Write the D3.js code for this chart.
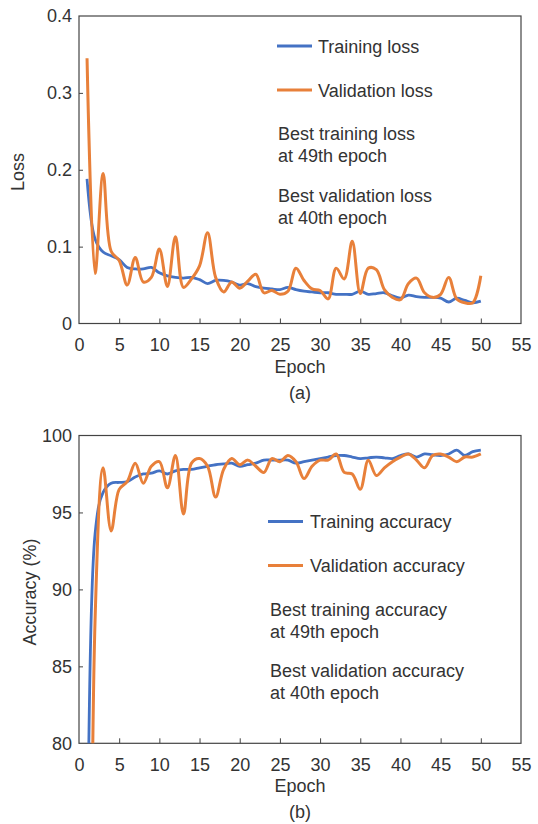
<!DOCTYPE html>
<html>
<head>
<meta charset="utf-8">
<script src="https://cdn.jsdelivr.net/npm/d3@7"></script>
<style>
  body { margin: 0; background: #fff; }
  svg { display: block; font-family: "Liberation Sans", Arial, sans-serif; }
  .tick text { font-size: 18px; fill: #333; }
  .tick line { stroke: #444; }
</style>
</head>
<body>
<svg id="chart" width="538" height="824"></svg>
<script>
// ---- DATA (epochs 1..50) ----
const epochs = d3.range(1, 51);
const xTicks = [0, 5, 10, 15, 20, 25, 30, 35, 40, 45, 50, 55];

const trainLoss = [0.188, 0.110, 0.093, 0.088, 0.083, 0.073, 0.071, 0.071, 0.073, 0.066,
  0.062, 0.060, 0.059, 0.060, 0.057, 0.052, 0.056, 0.056, 0.054, 0.050,
  0.052, 0.048, 0.046, 0.045, 0.044, 0.047, 0.044, 0.042, 0.041, 0.040,
  0.040, 0.038, 0.038, 0.038, 0.042, 0.038, 0.039, 0.040, 0.036, 0.033,
  0.037, 0.035, 0.034, 0.034, 0.033, 0.028, 0.033, 0.030, 0.027, 0.029];
const valLoss = [0.345, 0.065, 0.195, 0.094, 0.082, 0.050, 0.086, 0.054, 0.060, 0.097,
  0.048, 0.113, 0.047, 0.058, 0.075, 0.118, 0.060, 0.041, 0.054, 0.046,
  0.055, 0.064, 0.040, 0.043, 0.038, 0.042, 0.072, 0.056, 0.045, 0.043,
  0.032, 0.072, 0.058, 0.107, 0.039, 0.072, 0.070, 0.044, 0.034, 0.031,
  0.052, 0.059, 0.040, 0.034, 0.038, 0.060, 0.032, 0.027, 0.027, 0.062];
const lossTicks = [0, 0.1, 0.2, 0.3, 0.4];

// epoch 1 sits far below the 80% floor and is clipped, as in the source
const trainAcc = [0, 93.6, 96.3, 96.9, 96.95, 97.0, 97.3, 97.5, 97.55, 97.7,
  97.5, 97.7, 97.8, 97.8, 97.9, 98.0, 98.1, 98.15, 98.2, 98.0,
  98.1, 98.2, 98.4, 98.4, 98.4, 98.4, 98.2, 98.3, 98.4, 98.5,
  98.6, 98.7, 98.7, 98.6, 98.5, 98.55, 98.6, 98.55, 98.5, 98.7,
  98.8, 98.6, 98.8, 98.75, 98.7, 98.8, 99.05, 98.7, 98.95, 99.05];
const valAcc = [0, 88, 97.9, 93.8, 96.5, 97.0, 98.2, 96.9, 98.0, 98.3,
  96.6, 98.7, 94.9, 98.2, 98.5, 98.0, 96.0, 97.8, 98.5, 98.1,
  98.4, 98.0, 97.6, 98.5, 98.3, 98.7, 98.3, 97.2, 98.0, 98.4,
  98.4, 98.8, 97.6, 97.5, 96.5, 98.4, 97.4, 97.9, 98.3, 98.6,
  98.8, 98.4, 97.9, 98.7, 98.8, 98.6, 98.3, 98.6, 98.6, 98.8];
const accTicks = [80, 85, 90, 95, 100];

const BLUE = '#4472C4';
const ORANGE = '#E8803A';
const TEXT = '#333';

const svg = d3.select('#chart');

function drawPanel(p) {
  const g = svg.append('g');
  const x = d3.scaleLinear().domain([0, 55]).range([79, 521]);
  const y = d3.scaleLinear().domain(p.yDomain).range([p.bottom, p.top]);

  const clipId = 'clip-' + p.id;
  g.append('clipPath').attr('id', clipId)
    .append('rect')
    .attr('x', x(0)).attr('y', y(p.yDomain[1]))
    .attr('width', x(55) - x(0)).attr('height', y(p.yDomain[0]) - y(p.yDomain[1]));

  // axes, ticks point inward
  const xa = g.append('g').attr('transform', `translate(0,${y(p.yDomain[0])})`)
    .call(d3.axisBottom(x).tickValues(xTicks).tickSizeInner(-5).tickSizeOuter(0).tickPadding(15));
  xa.select('.domain').remove();
  xa.selectAll('.tick').filter(d => d === 0 || d === 55).select('line').remove();

  const ya = g.append('g').attr('transform', `translate(${x(0)},0)`)
    .call(d3.axisLeft(y).tickValues(p.yTicks).tickSizeInner(-4).tickSizeOuter(0).tickPadding(7)
      .tickFormat(p.fmt));
  ya.select('.domain').remove();
  ya.selectAll('.tick').filter((d, i) => i === 0 || i === p.yTicks.length - 1).select('line').remove();

  g.append('rect')
    .attr('x', x(0)).attr('y', y(p.yDomain[1]))
    .attr('width', x(55) - x(0)).attr('height', y(p.yDomain[0]) - y(p.yDomain[1]))
    .attr('fill', 'none').attr('stroke', '#444').attr('stroke-width', 1.2);

  // series
  const line = d3.line()
    .x((d, i) => x(epochs[i]))
    .y(d => y(d))
    .curve(d3.curveCatmullRom);
  const plot = g.append('g').attr('clip-path', `url(#${clipId})`);
  plot.append('path').datum(p.train).attr('d', line)
    .attr('fill', 'none').attr('stroke', BLUE).attr('stroke-width', 2.8);
  plot.append('path').datum(p.val).attr('d', line)
    .attr('fill', 'none').attr('stroke', ORANGE).attr('stroke-width', 3);

  // axis titles
  g.append('text').attr('x', 300).attr('y', y(p.yDomain[0]) + 49)
    .attr('text-anchor', 'middle').attr('font-size', 18).attr('fill', TEXT).text('Epoch');
  g.append('text').attr('x', 300).attr('y', y(p.yDomain[0]) + 75)
    .attr('text-anchor', 'middle').attr('font-size', 18).attr('fill', TEXT).text(p.tag);
  g.append('text')
    .attr('transform', `translate(${p.yLabelX},${p.yLabelY}) rotate(-90)`)
    .attr('text-anchor', 'middle').attr('font-size', 18).attr('fill', TEXT).text(p.yLabel);

  // legend
  const lg = g.append('g');
  [[p.names[0], BLUE, p.leg.y0], [p.names[1], ORANGE, p.leg.y1]].forEach(([name, col, cy]) => {
    lg.append('line').attr('x1', p.leg.x1).attr('x2', p.leg.x2).attr('y1', cy).attr('y2', cy)
      .attr('stroke', col).attr('stroke-width', 3);
    lg.append('text').attr('x', p.leg.tx).attr('y', cy + 6.5)
      .attr('font-size', 18).attr('fill', TEXT).text(name);
  });
  p.notes.forEach((t, i) => {
    lg.append('text').attr('x', p.leg.nx).attr('y', p.leg.noteY[i] + 6.5)
      .attr('font-size', 18).attr('fill', TEXT).text(t);
  });
}

drawPanel({
  id: 'a', top: 16, bottom: 323.5, yDomain: [0, 0.4], yTicks: lossTicks,
  fmt: d => d === 0 ? '0' : d3.format('.1f')(d),
  train: trainLoss, val: valLoss, tag: '(a)',
  yLabel: 'Loss', yLabelX: 24, yLabelY: 172,
  names: ['Training loss', 'Validation loss'],
  notes: ['Best training loss', 'at 49th epoch', 'Best validation loss', 'at 40th epoch'],
  leg: { x1: 277, x2: 312, tx: 318, y0: 46, y1: 90, nx: 278, noteY: [133, 155, 195, 217] }
});

drawPanel({
  id: 'b', top: 435.5, bottom: 743.3, yDomain: [80, 100], yTicks: accTicks,
  fmt: d => String(d),
  train: trainAcc, val: valAcc, tag: '(b)',
  yLabel: 'Accuracy (%)', yLabelX: 36, yLabelY: 592,
  names: ['Training accuracy', 'Validation accuracy'],
  notes: ['Best training accuracy', 'at 49th epoch', 'Best validation accuracy', 'at 40th epoch'],
  leg: { x1: 268, x2: 303, tx: 310, y0: 521.5, y1: 565.5, nx: 270, noteY: [609, 631, 670, 692] }
});
</script>
</body>
</html>
